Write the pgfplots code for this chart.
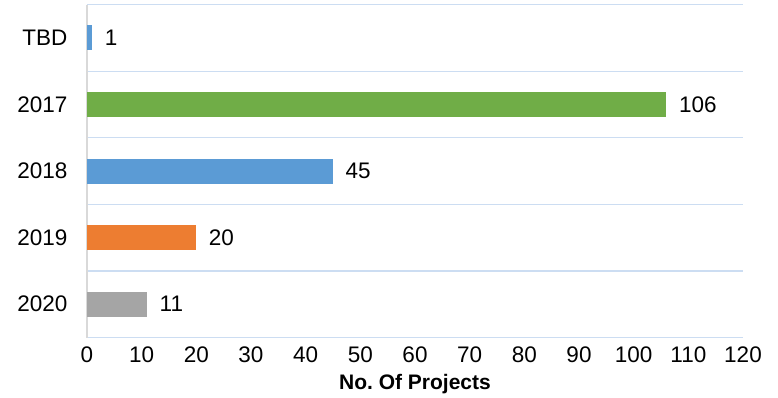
\documentclass[border=0pt]{standalone}
\usepackage{fontspec}
\setmainfont{Liberation Sans}
\usepackage{pgfplots}
\pgfplotsset{compat=1.18}
\definecolor{cblue}{HTML}{5B9BD5}
\definecolor{cgreen}{HTML}{70AD47}
\definecolor{corange}{HTML}{ED7D31}
\definecolor{cgray}{HTML}{A5A5A5}
\definecolor{gridc}{HTML}{CCDDF2}
\definecolor{axc}{HTML}{D9D9D9}
\begin{document}
\begin{tikzpicture}
\begin{axis}[
  scale only axis,
  width=656pt, height=333pt,
  xbar, bar width=25pt, bar shift=0pt,
  xmin=0, xmax=120, xtick={0,10,...,120},
  ymin=-0.5, ymax=4.5, y dir=reverse,
  ytick={0,1,2,3,4},
  yticklabels={TBD,2017,2018,2019,2020},
  minor ytick={-0.5,0.5,1.5,2.5,3.5,4.5},
  ymajorgrids=false, yminorgrids=true,
  minor grid style={gridc, line width=1.2pt},
  axis lines*=left,
  x axis line style={draw=none},
  y axis line style={axc, line width=2pt},
  major tick length=0pt, minor tick length=0pt,
  tick style={draw=none},
  /pgf/number format/assume math mode=true,
  ticklabel style={font=\fontsize{22.5}{26}\selectfont},
  yticklabel style={xshift=-16pt},
  xticklabel style={yshift=-6pt},
  xlabel={\textbf{No.\ Of Projects}},
  xlabel style={font=\fontsize{21}{24}\selectfont, at={(axis description cs:0.5,0)}, anchor=center, yshift=-46.5pt},
  nodes near coords,
  nodes near coords style={font=\fontsize{22.5}{26}\selectfont, anchor=west, xshift=9pt, /pgf/number format/assume math mode=true},
  every axis plot/.append style={draw=none},
]
\addplot[fill=cblue] coordinates {(1,0)};
\addplot[fill=cgreen] coordinates {(106,1)};
\addplot[fill=cblue] coordinates {(45,2)};
\addplot[fill=corange] coordinates {(20,3)};
\addplot[fill=cgray] coordinates {(11,4)};
\end{axis}
\path[use as bounding box] (-87pt,-60.5pt) rectangle (691pt,337.5pt);
\end{tikzpicture}
\end{document}
